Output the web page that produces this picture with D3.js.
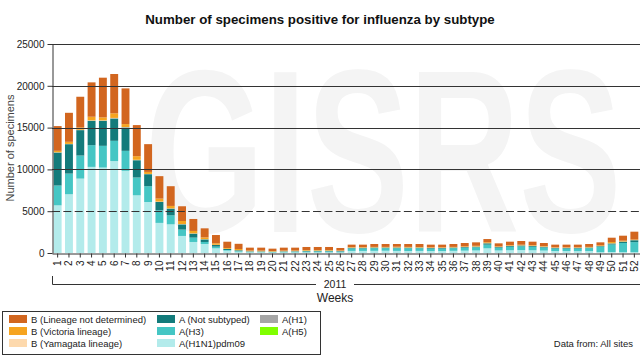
<!DOCTYPE html>
<html><head><meta charset="utf-8">
<script src="https://cdn.jsdelivr.net/npm/d3@7"></script>
<style>body{margin:0;background:#fff}svg{display:block;font-family:"Liberation Sans",Arial,sans-serif}</style>
</head><body><svg id="c" width="640" height="361"></svg>
<script>
const weeks = d3.range(1, 53).map(String);
const yTicks = [0, 5000, 10000, 15000, 20000, 25000];
const seriesNames = ["A(H1N1)pdm09","A(H3)","A (Not subtyped)","A(H1)","A(H5)","B (Yamagata lineage)","B (Victoria lineage)","B (Lineage not determined)"];
const pdm09 = [5700,7030,8900,10300,10220,11000,9830,6900,6100,3600,3430,2040,1320,1080,560,280,150,80,80,60,70,70,80,80,80,70,250,250,260,270,250,240,250,230,230,260,280,300,560,300,330,350,330,290,230,230,220,230,100,120,100,100];
const h3 = [2370,2470,2760,2600,2600,2420,2390,2130,1890,1510,1080,760,520,240,200,80,80,70,60,60,80,90,110,120,120,100,300,300,320,310,320,330,320,300,300,320,350,380,440,330,420,450,420,370,310,310,320,350,640,900,1100,1200];
const notSubtyped = [3950,3520,3040,2920,3000,2680,2800,2070,1440,1000,800,630,480,310,200,120,90,50,50,40,50,50,70,70,70,60,70,70,70,70,80,70,70,70,70,70,80,80,160,80,90,100,90,80,70,70,70,70,80,120,160,230];
const h1 = new Array(52).fill(0);
const h5 = new Array(52).fill(0);
const yamagata = [30,30,40,50,50,60,50,50,30,40,30,40,30,30,20,20,20,20,20,20,20,20,20,20,20,20,20,20,20,20,20,20,20,20,20,20,20,20,20,20,20,20,20,20,20,20,20,20,20,20,20,20];
const victoria = [170,250,280,430,350,550,350,430,240,360,290,360,290,210,180,100,140,80,80,60,70,70,80,70,70,50,60,60,60,60,80,70,60,60,60,60,70,80,100,60,70,70,70,60,50,50,50,60,80,150,90,60];
const bNotDetermined = [2960,3470,3670,4110,4750,4700,4270,3720,3320,2680,2360,1760,1430,1080,990,750,620,340,350,280,350,340,360,360,360,300,300,300,345,345,325,345,355,320,320,345,395,415,390,365,425,445,425,375,320,320,320,345,355,520,600,940];
const colors = ["#b3ebeb","#45c6c4","#137b7b","#a6a6a6","#80ff00","#fdd9ad","#f6a41f","#d2661f"];

const seriesData = [pdm09,h3,notSubtyped,h1,h5,yamagata,victoria,bNotDetermined];
const rows = weeks.map((w,i)=>{const r={week:w}; seriesNames.forEach((n,k)=>r[n]=seriesData[k][i]); return r;});

const svg = d3.select("#c");
const L=52, R=640, T=44, B=253;
const x = d3.scaleBand().domain(weeks).range([L,R]).paddingInner(0.3).paddingOuter(0.15);
const y = d3.scaleLinear().domain([0,25000]).range([B,T]);

// watermark
svg.append("text").attr("transform","translate(145,232) scale(0.66,1)").attr("font-size",232).attr("font-weight","bold")
  .attr("fill","#f4f4f4").text("GISRS");

// title
svg.append("text").attr("x",320).attr("y",24).attr("text-anchor","middle").attr("font-size",13.3).attr("font-weight","bold").attr("fill","#111")
  .text("Number of specimens positive for influenza by subtype");

// bars
const stack = d3.stack().keys(seriesNames)(rows);
svg.append("g").selectAll("g").data(stack).join("g").attr("fill",(d,i)=>colors[i])
  .selectAll("rect").data(d=>d).join("rect")
  .attr("x",d=>x(d.data.week)).attr("width",x.bandwidth())
  .attr("y",d=>y(d[1])).attr("height",d=>Math.max(0,y(d[0])-y(d[1])));

// grid
const grid = svg.append("g");
yTicks.filter(v=>v>0).forEach(v=>{
  grid.append("line").attr("x1",L).attr("x2",R).attr("y1",Math.round(y(v))+0.5).attr("y2",Math.round(y(v))+0.5)
    .attr("stroke","#333").attr("stroke-width",1).attr("stroke-dasharray", v===5000?"8,3.35":null);
});

// y axis
const ya = svg.append("g").attr("transform",`translate(${L+0.5},0)`).call(d3.axisLeft(y).tickValues(yTicks).tickSize(5).tickSizeOuter(0).tickFormat(d3.format("d")));
ya.select(".domain").attr("stroke","#333");
ya.selectAll(".tick line").attr("stroke","#333");
ya.selectAll(".tick text").attr("font-size",10).attr("fill","#222").attr("font-family","Liberation Sans, Arial, sans-serif");

// x axis
const xa = svg.append("g").attr("transform",`translate(0,${B+0.5})`).call(d3.axisBottom(x).tickSize(4).tickSizeOuter(0));
xa.select(".domain").attr("stroke","#333");
xa.selectAll(".tick line").attr("stroke","#333");
xa.selectAll(".tick text").attr("font-size",10).attr("fill","#222").attr("font-family","Liberation Sans, Arial, sans-serif")
  .attr("transform","rotate(-90)").attr("text-anchor","end").attr("x",-7).attr("y",0).attr("dy","0.35em");

// y title
svg.append("text").attr("transform","translate(14,148) rotate(-90)").attr("text-anchor","middle").attr("font-size",11).attr("fill","#444").text("Number of specimens");

// 2011 bracket
svg.append("path").attr("d",`M${L+0.5},276V284.5H${R}`).attr("fill","none").attr("stroke","#333");
svg.append("rect").attr("x",316).attr("y",279).attr("width",38).attr("height",11).attr("fill","#fff");
svg.append("text").attr("x",335).attr("y",288).attr("text-anchor","middle").attr("font-size",10.5).attr("fill","#222").text("2011");
svg.append("text").attr("x",335).attr("y",302).attr("text-anchor","middle").attr("font-size",12).attr("fill","#222").text("Weeks");

// legend
svg.append("rect").attr("x",2.5).attr("y",311.5).attr("width",318).attr("height",43).attr("fill","#fff").attr("stroke","#333");
const legendItems = [
  ["B (Lineage not determined)",7,9,319],["B (Victoria lineage)",6,9,331],["B (Yamagata lineage)",5,9,343],
  ["A (Not subtyped)",2,157,319],["A(H3)",1,157,331],["A(H1N1)pdm09",0,157,343],
  ["A(H1)",3,260,319],["A(H5)",4,260,331]
];
legendItems.forEach(([t,ci,lx,ly])=>{
  svg.append("rect").attr("x",lx).attr("y",ly-4).attr("width",18).attr("height",8).attr("fill",colors[ci]);
  svg.append("text").attr("x",lx+22).attr("y",ly+3.5).attr("font-size",9.5).attr("fill","#222").text(t);
});
svg.append("text").attr("x",633).attr("y",347).attr("text-anchor","end").attr("font-size",9.5).attr("fill","#222").text("Data from: All sites");
</script></body></html>
